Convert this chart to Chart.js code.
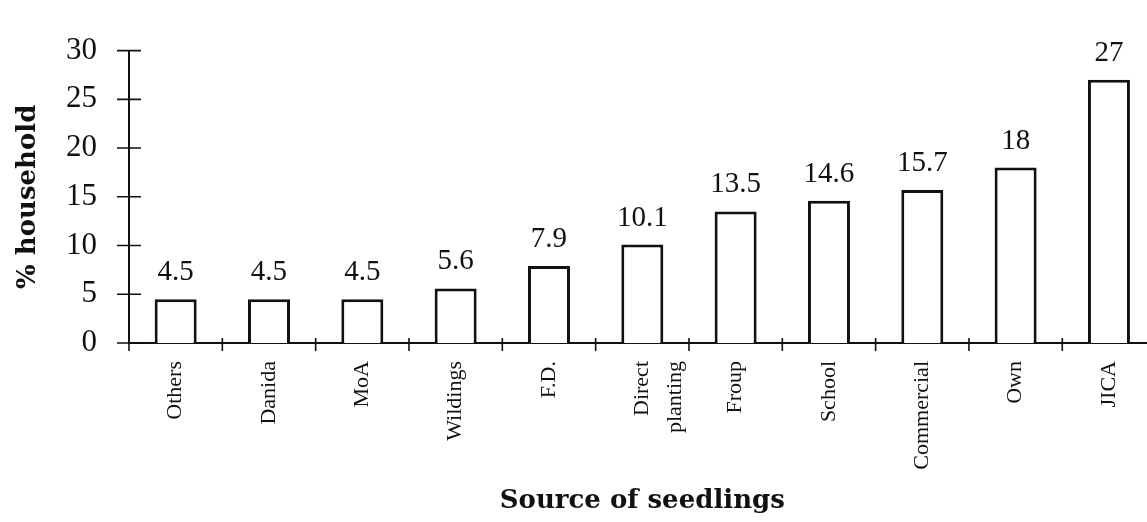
<!DOCTYPE html>
<html>
<head>
<meta charset="utf-8">
<script src="https://cdn.jsdelivr.net/npm/chart.js@4"></script>
<style>
  html, body { margin: 0; padding: 0; background: #fff; overflow: hidden; }
  canvas { display: block; }
</style>
</head>
<body>
<canvas id="chart" width="1160" height="522"></canvas>
<script>
// Source of seedlings used by households (% of households)
const categories = ['Others', 'Danida', 'MoA', 'Wildings', 'F.D.', ['Direct', 'planting'], 'Froup', 'School', 'Commercial', 'Own', 'JICA'];
const householdShare = [4.5, 4.5, 4.5, 5.6, 7.9, 10.1, 13.5, 14.6, 15.7, 18, 27];
const yTicks = [0, 5, 10, 15, 20, 25, 30];

const INK = '#111';
const SERIF = "'Liberation Serif', 'Times New Roman', serif";
const TITLE_FONT = "'DejaVu Serif', serif";

// Value written above every bar
const valueLabels = {
  id: 'valueLabels',
  afterDatasetsDraw(chart) {
    const ctx = chart.ctx;
    const meta = chart.getDatasetMeta(0);
    const data = chart.data.datasets[0].data;
    ctx.save();
    ctx.fillStyle = INK;
    ctx.font = '29px ' + SERIF;
    ctx.textAlign = 'center';
    ctx.textBaseline = 'alphabetic';
    meta.data.forEach((bar, i) => {
      ctx.fillText(String(data[i]), bar.x, bar.y - 19);
    });
    ctx.restore();
  }
};

// Short tick marks that cross both axes
const crossTicks = {
  id: 'crossTicks',
  afterDraw(chart) {
    const ctx = chart.ctx;
    const x = chart.scales.x;
    const y = chart.scales.y;
    ctx.save();
    ctx.strokeStyle = INK;
    ctx.lineWidth = 1.6;
    ctx.beginPath();
    // y axis: a tick at every labelled value
    y.ticks.forEach(t => {
      const py = y.getPixelForValue(t.value);
      ctx.moveTo(x.left - 12, py);
      ctx.lineTo(x.left + 12, py);
    });
    // x axis: a tick at each category boundary
    const n = chart.data.labels.length;
    for (let i = 0; i < n; i++) {
      const px = i === 0 ? x.left : (x.getPixelForValue(i - 1) + x.getPixelForValue(i)) / 2;
      ctx.moveTo(px, y.bottom - 5);
      ctx.lineTo(px, y.bottom + 8);
    }
    ctx.stroke();
    ctx.restore();
  }
};

new Chart(document.getElementById('chart'), {
  type: 'bar',
  data: {
    labels: categories,
    datasets: [{
      data: householdShare,
      backgroundColor: '#fff',
      borderColor: INK,
      borderWidth: 3,
      borderSkipped: 'start',
      barPercentage: 0.45,
      categoryPercentage: 1
    }]
  },
  options: {
    responsive: false,
    animation: false,
    layout: { padding: { top: 32, right: 1, bottom: 0, left: 0 } },
    plugins: {
      legend: { display: false },
      tooltip: { enabled: false }
    },
    scales: {
      x: {
        grid: { display: false, drawTicks: false },
        border: { display: true, color: INK, width: 2 },
        ticks: {
          color: INK,
          font: { family: SERIF, size: 22, lineHeight: 1.5 },
          minRotation: 90,
          maxRotation: 90,
          autoSkip: false,
          padding: 18
        },
        title: {
          display: true,
          text: 'Source of seedlings',
          color: INK,
          font: { family: TITLE_FONT, size: 26, weight: 'bold' },
          padding: { top: 0, bottom: 5 }
        },
        afterFit(scale) { scale.height = 179; }
      },
      y: {
        min: 0,
        max: 30,
        afterBuildTicks(scale) { scale.ticks = yTicks.map(v => ({ value: v })); },
        grid: { display: false, drawTicks: false },
        border: { display: true, color: INK, width: 2 },
        ticks: {
          color: INK,
          font: { family: SERIF, size: 31 },
          padding: 32
        },
        title: {
          display: true,
          text: '% household',
          color: INK,
          font: { family: TITLE_FONT, size: 26, weight: 'bold' },
          padding: { top: 13, bottom: 0 }
        },
        afterFit(scale) { scale.width = 129; }
      }
    }
  },
  plugins: [valueLabels, crossTicks]
});
</script>
</body>
</html>
